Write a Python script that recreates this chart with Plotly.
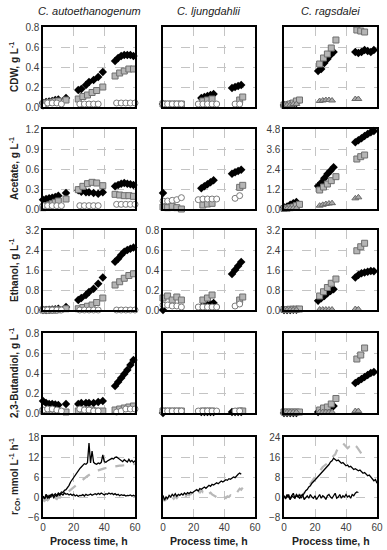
import plotly.graph_objects as go
from plotly.subplots import make_subplots

# ---------------- DATA ----------------
SPECIES = ["C. autoethanogenum", "C. ljungdahlii", "C. ragsdalei"]
Y_LABELS = ["CDW, g L<sup>-1</sup>", "Acetate, g L<sup>-1</sup>", "Ethanol, g L<sup>-1</sup>",
            "2,3-Butandiol, g L<sup>-1</sup>", "r<sub>CO</sub>, mmol L<sup>-1</sup> h<sup>-1</sup>"]
X_LABEL = "Process time, h"

# C. autoethanogenum
CA_T_DIA = [0, 2, 4, 6, 8, 10, 15, 23, 25, 28, 30, 33, 36, 39, 47, 49, 51, 53, 55, 57, 59]
CA_T_SQ = [0, 2, 4, 6, 8, 10, 15, 23, 26, 29, 32, 35, 39, 47, 50, 53, 56, 59]
CA_T_CIR = [0, 3, 6, 9, 12, 24, 27, 30, 33, 36, 48, 51, 54, 57, 60]
CA_CDW_DIA = [0.04, 0.05, 0.055, 0.06, 0.07, 0.075, 0.09, 0.17, 0.18, 0.22, 0.25, 0.27, 0.30, 0.35, 0.46, 0.49, 0.51, 0.52, 0.52, 0.52, 0.51]
CA_CDW_SQ = [0.03, 0.04, 0.045, 0.05, 0.055, 0.06, 0.07, 0.08, 0.105, 0.12, 0.145, 0.165, 0.2, 0.31, 0.34, 0.36, 0.38, 0.38]
CA_CDW_CIR = [0.01, 0.04, 0.04, 0.04, 0.03, 0.03, 0.03, 0.03, 0.03, 0.03, 0.04, 0.04, 0.04, 0.04, 0.04]
CA_ACE_DIA = [0.14, 0.15, 0.16, 0.17, 0.18, 0.2, 0.24, 0.28, 0.26, 0.25, 0.25, 0.24, 0.23, 0.25, 0.34, 0.36, 0.38, 0.39, 0.38, 0.37, 0.36]
CA_ACE_SQ = [0.02, 0.04, 0.06, 0.08, 0.1, 0.12, 0.15, 0.29, 0.34, 0.38, 0.40, 0.39, 0.35, 0.22, 0.21, 0.2, 0.2, 0.19]
CA_ACE_CIR = [0.05, 0.05, 0.05, 0.05, 0.05, 0.05, 0.05, 0.05, 0.05, 0.05, 0.07, 0.07, 0.07, 0.07, 0.07]
CA_ETH_DIA = [0.0, 0.0, 0.01, 0.02, 0.03, 0.05, 0.12, 0.4, 0.48, 0.6, 0.72, 0.85, 1.05, 1.3, 1.93, 2.05, 2.2, 2.33, 2.4, 2.45, 2.5]
CA_ETH_SQ = [0.0, 0.0, 0.0, 0.0, 0.0, 0.01, 0.05, 0.05, 0.1, 0.15, 0.2, 0.3, 0.48, 1.0, 1.13, 1.27, 1.38, 1.45]
CA_ETH_CIR = [0.0, 0.0, 0.0, 0.0, 0.0, 0.0, 0.0, 0.0, 0.0, 0.0, 0.0, 0.0, 0.0, 0.0, 0.0]
CA_BDO_DIA = [0.12, 0.1, 0.09, 0.09, 0.085, 0.08, 0.09, 0.09, 0.1, 0.1, 0.1, 0.1, 0.11, 0.12, 0.27, 0.31, 0.35, 0.39, 0.43, 0.48, 0.53]
CA_BDO_SQ = [0.02, 0.02, 0.02, 0.02, 0.02, 0.02, 0.01, 0.02, 0.03, 0.03, 0.03, 0.02, 0.02, 0.03, 0.04, 0.05, 0.06, 0.07]
CA_BDO_CIR = [0.03, 0.04, 0.04, 0.03, 0.02, 0.04, 0.03, 0.03, 0.02, 0.02, 0.01, 0.02, 0.04, 0.04, 0.04]

# C. ljungdahlii
CL_T_DIA = [0, 25, 27, 29, 31, 33, 45, 47, 49, 51]
CL_T_SQ = [0, 3, 6, 9, 12, 26, 29, 32, 50, 52]
CL_T_CIR = [0, 3, 6, 9, 12, 23, 26, 29, 32, 35, 47, 50]
CL_CDW_DIA = [0.03, 0.09, 0.1, 0.11, 0.12, 0.13, 0.19, 0.2, 0.21, 0.22]
CL_CDW_SQ = [0.03, 0.03, 0.03, 0.03, 0.03, 0.06, 0.07, 0.08, 0.07, 0.1]
CL_CDW_CIR = [0.03, 0.03, 0.03, 0.03, 0.03, 0.03, 0.03, 0.03, 0.03, 0.03, 0.03, 0.03]
CL_ACE_DIA = [0.24, 0.31, 0.34, 0.37, 0.40, 0.43, 0.53, 0.55, 0.57, 0.59]
CL_ACE_SQ = [0.03, 0.02, 0.04, 0.02, 0.0, 0.06, 0.075, 0.085, 0.325, 0.355]
CL_ACE_CIR = [0.12, 0.12, 0.13, 0.14, 0.17, 0.14, 0.15, 0.15, 0.15, 0.15, 0.16, 0.2]
CL_ETH_DIA = [0.0, 0.03, 0.04, 0.05, 0.06, 0.07, 0.36, 0.40, 0.44, 0.48]
CL_ETH_SQ = [0.12, 0.14, 0.1, 0.13, 0.1, 0.1, 0.12, 0.15, 0.1, 0.13]
CL_ETH_CIR = [0.05, 0.05, 0.04, 0.04, 0.03, 0.03, 0.03, 0.03, 0.03, 0.03, 0.04, 0.06]
CL_BDO_DIA = [0.0, 0.01, 0.01, 0.01, 0.01, 0.01, 0.01, 0.01, 0.01, 0.01]
CL_BDO_SQ = [0.02, 0.02, 0.02, 0.02, 0.02, 0.02, 0.02, 0.02, 0.02, 0.02]
CL_BDO_CIR = [0.02, 0.02, 0.02, 0.02, 0.02, 0.02, 0.02, 0.02, 0.02, 0.02, 0.02, 0.02]

# C. ragsdalei
CR_T_DIA = [0, 2, 4, 6, 8, 22, 24, 26, 28, 30, 32, 46, 48, 50, 52, 54, 56, 58]
CR_T_SQ = [0, 2, 4, 6, 8, 10, 23, 25.5, 28, 30.5, 33.5, 47, 49.5, 52]
CR_T_TRI = [0, 2, 4, 6, 8, 23, 25, 27, 29, 31, 46, 48]
CR_CDW_DIA = [0.02, 0.02, 0.03, 0.03, 0.04, 0.36, 0.38, 0.44, 0.48, 0.52, 0.55, 0.55, 0.54, 0.55, 0.57, 0.56, 0.55, 0.57]
CR_CDW_SQ = [0.02, 0.02, 0.03, 0.04, 0.06, 0.07, 0.43, 0.49, 0.53, 0.59, 0.67, 0.77, 0.76, 0.75]
CR_CDW_TRI = [0.02, 0.02, 0.02, 0.03, 0.03, 0.06, 0.065, 0.07, 0.07, 0.065, 0.08, 0.08]
CR_ACE_DIA = [0.1, 0.15, 0.25, 0.35, 0.42, 1.38, 1.58, 1.84, 2.1, 2.3, 2.5, 4.0, 4.12, 4.25, 4.38, 4.5, 4.6, 4.68]
CR_ACE_SQ = [0.03, 0.05, 0.08, 0.12, 0.2, 0.28, 1.14, 1.32, 1.5, 1.7, 1.94, 3.0, 3.14, 3.24]
CR_ACE_TRI = [0.03, 0.03, 0.04, 0.05, 0.05, 0.2, 0.25, 0.3, 0.33, 0.35, 0.64, 0.7]
CR_ETH_DIA = [0.0, 0.0, 0.0, 0.01, 0.01, 0.37, 0.47, 0.56, 0.67, 0.76, 0.83, 1.3, 1.4, 1.47, 1.5, 1.53, 1.56, 1.55]
CR_ETH_SQ = [0.02, 0.02, 0.03, 0.03, 0.03, 0.04, 0.56, 0.73, 0.9, 1.07, 1.24, 2.37, 2.53, 2.67]
CR_ETH_TRI = [0.01, 0.01, 0.01, 0.01, 0.01, 0.02, 0.02, 0.02, 0.02, 0.02, 0.04, 0.03]
CR_BDO_DIA = [0.0, 0.0, 0.0, 0.0, 0.0, 0.01, 0.02, 0.03, 0.04, 0.05, 0.07, 0.30, 0.32, 0.34, 0.36, 0.38, 0.40, 0.41]
CR_BDO_SQ = [0.01, 0.01, 0.01, 0.01, 0.01, 0.01, 0.03, 0.05, 0.06, 0.09, 0.145, 0.54, 0.58, 0.65]
CR_BDO_TRI = [0.01, 0.01, 0.01, 0.01, 0.01, 0.01, 0.01, 0.01, 0.01, 0.01, 0.02, 0.02]

# CO uptake rates (hourly readings)
CA_RCO_T = list(range(0, 61))
CA_RCO_A = [0.3, -0.5, 0.8, 0.2, -0.3, 0.6, 0.9, 0.4, 1.0, 0.5, 1.2, 0.8, 1.5, 1.3, 2.0,
            2.2, 2.8, 3.5, 4.5, 5.2, 6.0, 6.8, 7.2, 7.8, 8.5, 9.0, 9.6, 10.0, 9.8, 10.3,
            16.2, 10.2, 13.8, 10.4, 10.0, 9.8, 10.2, 10.0, 10.4, 12.6, 10.6, 10.4, 10.8, 11.0, 11.3,
            11.6, 11.4, 11.9, 12.0, 11.6, 11.2, 11.0, 10.6, 11.2, 10.8, 10.5, 11.3, 10.6, 11.0, 10.4, 10.9]
CA_RCO_B = [0.2, -0.6, 0.4, -0.3, 0.5, 0.0, 0.6, -0.2, 0.5, 0.2, 0.8, 0.5, 1.0, 0.6, 1.2,
            0.8, 1.0, 0.6, 0.9, 0.5, 0.8, 0.3, 0.6, 0.2, 0.5, 0.4, 0.7, 0.3, 0.8, 0.5,
            0.6, 0.9, 0.5, 0.8, 1.0, 0.7, 1.1, 0.8, 1.2, 0.9, 0.6, 1.0, 0.8, 1.2, 0.9,
            1.1, 0.7, 1.0, 0.6, 0.8, 0.4, 0.7, 0.5, 0.6, 0.3, 0.5, 0.4, 0.6, 0.3, 0.5, 0.2]
CA_RCO_C = [-0.8, -1.2, -0.6, -1.0, -0.5, -1.1, -0.4, -0.9, -0.3, -0.6, 0.0, -0.2, 0.3, 0.5, 0.8,
            1.0, 1.4, 1.8, 2.2, 2.5, 2.9, 3.3, 3.8, 4.2, 4.6, 5.0, 5.4, 5.7, 6.0, 6.3,
            6.6, 6.9, 7.2, 7.4, 7.7, 7.9, 8.0, 8.2, 8.3, 8.5, 8.6, 8.7, 8.8, 8.9, 9.0,
            9.0, 9.1, 9.2, 9.2, 9.3, 9.4, 9.4, 9.5, 9.5, 9.6, 9.6, 9.7, 9.7, 9.8, 9.8, 9.9]
CL_RCO_T = list(range(0, 52))
CL_RCO_A = [0.5, -1.0, 0.0, -0.5, 0.5, 0.0, 0.8, 0.3, 1.0, 0.2, 0.8,
            0.5, 1.0, 0.6, 1.2, 0.8, 1.3, 1.0, 1.5, 1.2, 1.6,
            2.0, 2.2, 1.8, 2.5, 2.3, 2.8, 3.0, 2.6, 3.2, 3.5,
            3.2, 3.8, 3.6, 4.0, 4.3, 4.0, 4.5, 4.8, 4.5, 5.0,
            5.2, 5.0, 5.5, 5.3, 5.8, 6.0, 5.8, 6.5, 6.8, 7.2, 6.8]
CL_RCO_T2 = list(range(0, 53))
CL_RCO_B = [0.0, -1.2, -0.5, -1.0, -0.3, -0.8, 0.0, -0.5, 0.2, -0.3, 0.3,
            0.0, 0.5, 0.2, 0.6, 0.3, 0.8, 0.5, 1.0, 0.7, 0.6,
            1.2, 1.5, 2.0, 1.2, 2.2, 1.5, 1.8, 1.2, 1.6, 1.0,
            1.3, 0.8, 0.5, 0.2, 0.0, -0.3, 0.0, -0.4, -0.2, 0.0,
            -0.3, 0.2, 0.0, 0.5, 0.3, 1.0, 1.5, 1.2, 1.8, 2.5, 2.2, 2.8]
CR_RCO_T = list(range(0, 61))
CR_RCO_A = [0.5, -0.5, 1.0, 0.0, -1.0, 0.5, 1.5, -0.5, 0.5, 0.0, 1.0, -0.5, 0.8,
            1.5, 2.5, 3.0, 4.0, 4.5, 5.5, 6.0, 6.8,
            7.5, 8.2, 8.8, 9.5, 10.0, 11.0, 11.5, 12.5, 13.0, 14.0,
            14.5, 15.5, 15.0, 14.5, 14.8, 14.0, 13.5, 13.8, 13.0, 12.5,
            12.8, 12.0, 12.3, 11.5, 11.0, 11.3, 10.8, 10.5, 10.8, 10.0,
            9.5, 9.8, 9.0, 8.5, 8.8, 8.0, 7.5, 6.5, 7.0, 5.5]
CR_RCO_T2 = list(range(0, 49))
CR_RCO_B = [0.5, -0.5, 0.0, 1.0, -1.0, 0.5, 0.0, -0.5, 1.0, 0.0,
            -0.5, 0.5, 1.0, -1.0, 0.0, 0.5, -0.5, 1.0, 0.0, -0.5,
            0.5, -1.0, 0.0, 1.0, -0.5, 0.5, 0.0, -1.0, 0.5, 1.0,
            0.0, -0.5, 0.5, 1.5, -0.5, 0.0, 1.0, -0.5, 0.5, 0.0,
            1.0, 0.0, 0.5, -0.5, 1.0, 0.5, 1.5, 2.0, 1.8]
CR_RCO_T3 = list(range(0, 53))
CR_RCO_C = [0.0, -0.5, 0.5, 0.0, -0.3, 0.2, 0.5, 0.0, 0.3, 0.5, 1.0, 0.5, 1.0,
            1.5, 2.5, 3.5, 4.5, 5.5, 6.5, 7.5, 8.0,
            9.0, 9.5, 10.5, 11.0, 12.0, 12.5, 13.0, 13.5, 14.5, 15.0,
            15.5, 16.5, 17.0, 18.5, 19.5, 20.5, 21.0, 21.5, 20.8, 20.0,
            19.5, 20.0, 19.0, 19.5, 20.0, 20.5, 20.0, 19.0, 18.0, 17.0,
            16.0, 15.5]

Y_RANGES = [[(0, 0.8), (0, 0.8), (0, 0.8)],
            [(0, 1.2), (0, 1.2), (0, 4.8)],
            [(0, 3.2), (0, 0.8), (0, 3.2)],
            [(0, 0.8), (0, 0.8), (0, 0.8)],
            [(-6, 18), (-6, 18), (-8, 24)]]
Y_SHOW = [[True, False, False], [True, False, True], [True, True, True],
          [True, False, False], [True, False, True]]

# ---------------- STYLE ----------------
W, H = 387, 550
COLS_PX = [(43, 135), (163, 255), (284, 377)]
ROWS_PX = [(27, 107), (129, 209), (230, 310), (333, 413), (437, 517)]
FONT = "Liberation Sans, Arial, sans-serif"

DIA = dict(symbol="diamond", size=6.5, color="black", line=dict(width=0))
SQ = dict(symbol="square", size=6, color="#b5b5b5", line=dict(color="#6f6f6f", width=1))
CIR = dict(symbol="circle", size=6, color="white", line=dict(color="#7a7a7a", width=1))
TRI = dict(symbol="triangle-up", size=6, color="#a8a8a8", line=dict(color="#6a6a6a", width=1))

fig = make_subplots(rows=5, cols=3)


def pts(x, y, marker, r, c):
    fig.add_trace(go.Scatter(x=x, y=y, mode="markers", marker=marker, cliponaxis=False,
                             showlegend=False, hoverinfo="skip"), row=r, col=c)


def line(x, y, color, width, dash, r, c):
    fig.add_trace(go.Scatter(x=x, y=y, mode="lines", line=dict(color=color, width=width, dash=dash),
                             showlegend=False, hoverinfo="skip"), row=r, col=c)


ca = [(CA_CDW_DIA, CA_CDW_SQ, CA_CDW_CIR), (CA_ACE_DIA, CA_ACE_SQ, CA_ACE_CIR),
      (CA_ETH_DIA, CA_ETH_SQ, CA_ETH_CIR), (CA_BDO_DIA, CA_BDO_SQ, CA_BDO_CIR)]
cl = [(CL_CDW_DIA, CL_CDW_SQ, CL_CDW_CIR), (CL_ACE_DIA, CL_ACE_SQ, CL_ACE_CIR),
      (CL_ETH_DIA, CL_ETH_SQ, CL_ETH_CIR), (CL_BDO_DIA, CL_BDO_SQ, CL_BDO_CIR)]
cr = [(CR_CDW_DIA, CR_CDW_SQ, CR_CDW_TRI), (CR_ACE_DIA, CR_ACE_SQ, CR_ACE_TRI),
      (CR_ETH_DIA, CR_ETH_SQ, CR_ETH_TRI), (CR_BDO_DIA, CR_BDO_SQ, CR_BDO_TRI)]

for i in range(4):
    r = i + 1
    d, s, o = ca[i]
    pts(CA_T_DIA, d, DIA, r, 1)
    pts(CA_T_SQ, s, SQ, r, 1)
    pts(CA_T_CIR, o, CIR, r, 1)
    d, s, o = cl[i]
    pts(CL_T_DIA, d, DIA, r, 2)
    pts(CL_T_SQ, s, SQ, r, 2)
    pts(CL_T_CIR, o, CIR, r, 2)
    d, s, o = cr[i]
    pts(CR_T_DIA, d, DIA, r, 3)
    pts(CR_T_SQ, s, SQ, r, 3)
    pts(CR_T_TRI, o, TRI, r, 3)

GRAYL = "#b8b8b8"
line(CA_RCO_T, CA_RCO_C, GRAYL, 2.2, "dash", 5, 1)
line(CA_RCO_T, CA_RCO_B, "black", 1.3, "solid", 5, 1)
line(CA_RCO_T, CA_RCO_A, "black", 1.3, "solid", 5, 1)
line(CL_RCO_T2, CL_RCO_B, GRAYL, 2.2, "dash", 5, 2)
line(CL_RCO_T, CL_RCO_A, "black", 1.3, "solid", 5, 2)
line(CR_RCO_T3, CR_RCO_C, GRAYL, 2.2, "dash", 5, 3)
line(CR_RCO_T2, CR_RCO_B, "black", 1.3, "solid", 5, 3)
line(CR_RCO_T, CR_RCO_A, "black", 1.3, "solid", 5, 3)

axis_common = dict(showline=True, mirror=True, linecolor="black", linewidth=1.6,
                   showgrid=True, gridcolor="#c4c4c4", griddash="dash", gridwidth=1,
                   zeroline=False, ticks="", automargin=False,
                   tickfont=dict(family=FONT, size=10, color="#404040"))

for r in range(5):
    for c in range(3):
        idx = r * 3 + c + 1
        sfx = "" if idx == 1 else str(idx)
        x0, x1 = COLS_PX[c]
        y0, y1 = ROWS_PX[r]
        lo, hi = Y_RANGES[r][c]
        fig.layout["xaxis" + sfx].update(domain=[x0 / W, x1 / W], range=[0, 60], dtick=20, tick0=0,
                                         showticklabels=(r == 4), **axis_common)
        fig.layout["yaxis" + sfx].update(domain=[1 - y1 / H, 1 - y0 / H], range=[lo, hi],
                                         dtick=(hi - lo) / 4, tick0=lo,
                                         tickformat=(".1f" if r < 4 else "d"),
                                         showticklabels=Y_SHOW[r][c], **axis_common)

ann = []
for c in range(3):
    x0, x1 = COLS_PX[c]
    ann.append(dict(text="<i>" + SPECIES[c] + "</i>", x=(x0 + x1) / 2 / W, y=1 - 11 / H,
                    xref="paper", yref="paper", showarrow=False, xanchor="center", yanchor="middle",
                    font=dict(family=FONT, size=11, color="#222")))
    ann.append(dict(text="<b>" + X_LABEL + "</b>", x=(x0 + x1) / 2 / W, y=1 - 541 / H,
                    xref="paper", yref="paper", showarrow=False, xanchor="center", yanchor="middle",
                    font=dict(family=FONT, size=10.5, color="#222")))
for r in range(5):
    y0, y1 = ROWS_PX[r]
    ann.append(dict(text="<b>" + Y_LABELS[r] + "</b>", x=14 / W, y=1 - (y0 + y1) / 2 / H,
                    xref="paper", yref="paper", showarrow=False, textangle=-90,
                    xanchor="center", yanchor="middle",
                    font=dict(family=FONT, size=10, color="#222")))

fig.update_layout(width=W, height=H, margin=dict(l=0, r=0, t=0, b=0),
                  paper_bgcolor="white", plot_bgcolor="white", annotations=ann,
                  font=dict(family=FONT), hovermode=False)
fig.write_html("out.html", config={"displayModeBar": False, "staticPlot": True},
               post_script="document.body.style.margin='0px';document.body.style.padding='0px';")
